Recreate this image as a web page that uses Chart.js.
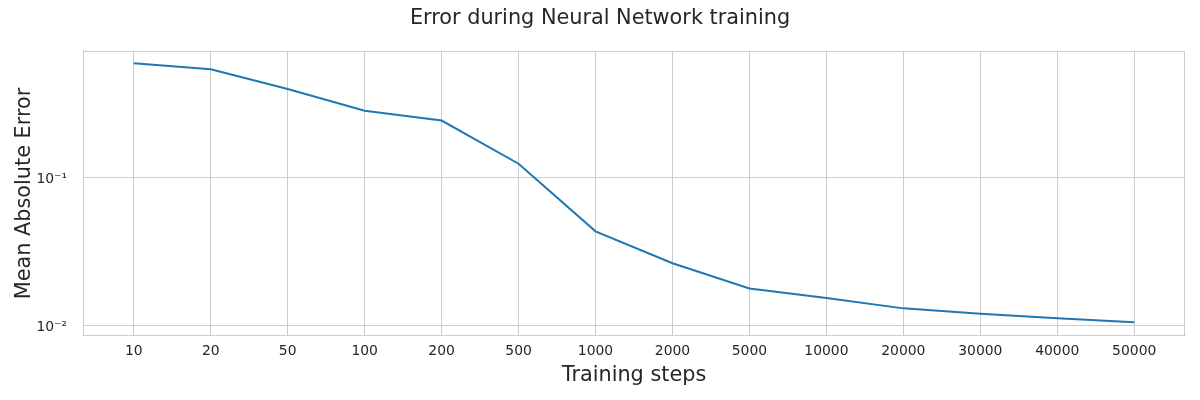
<!DOCTYPE html>
<html>
<head>
<meta charset="utf-8">
<script src="https://cdn.jsdelivr.net/npm/chart.js@4/dist/chart.umd.min.js"></script>
<style>
  html, body { margin: 0; padding: 0; background: #ffffff; }
  #wrap { width: 1200px; height: 400px; position: relative; }
</style>
</head>
<body>
<div id="wrap"><canvas id="c" width="1200" height="400"></canvas></div>
<script>
// ---- data ----
const steps = ['10', '20', '50', '100', '200', '500', '1000', '2000', '5000', '10000', '20000', '30000', '40000', '50000'];
const maeValues = [0.590, 0.537, 0.396, 0.282, 0.242, 0.1236, 0.0432, 0.0263, 0.01776, 0.01528, 0.01302, 0.01197, 0.01115, 0.01048];
const yTickValues = [0.01, 0.1];
const yTickLabels = ['10\u207B\u00B2', '10\u207B\u00B9'];
const titleText = 'Error during Neural Network training';
const xTitle = 'Training steps';
const yTitle = 'Mean Absolute Error';

const points = maeValues.map((v, i) => ({ x: i, y: v }));
const FONT = "'DejaVu Sans', sans-serif";
const TEXT = '#262626';
const GRID = '#cccccc';

const framePlugin = {
  id: 'frame',
  beforeDatasetsDraw(chart) {
    const a = chart.chartArea, ctx = chart.ctx;
    ctx.save();
    ctx.strokeStyle = GRID;
    ctx.lineWidth = 1;
    ctx.strokeRect(Math.round(a.left) + 0.5, Math.round(a.top) + 0.5, Math.round(a.right - a.left) - 1, Math.round(a.bottom - a.top) - 1);
    ctx.restore();
  }
};

new Chart(document.getElementById('c'), {
  type: 'line',
  data: {
    datasets: [{
      data: points,
      borderColor: '#1f77b4',
      backgroundColor: '#1f77b4',
      borderWidth: 2,
      pointRadius: 0,
      tension: 0,
      fill: false
    }]
  },
  options: {
    responsive: false,
    animation: false,
    devicePixelRatio: 1,
    layout: { padding: { top: 0, right: 15, bottom: 0, left: 15 } },
    plugins: {
      legend: { display: false },
      tooltip: { enabled: false },
      title: {
        display: true,
        text: titleText,
        color: TEXT,
        font: { family: FONT, size: 20.8, weight: 'normal' },
        padding: { top: 6, bottom: 20 }
      }
    },
    scales: {
      x: {
        type: 'linear',
        min: -0.66,
        max: 13.66,
        afterBuildTicks(scale) { scale.ticks = steps.map((s, i) => ({ value: i })); },
        afterFit(scale) { scale.height = 64; },
        ticks: {
          color: TEXT,
          font: { family: FONT, size: 13.9 },
          padding: 7,
          maxRotation: 0,
          autoSkip: false,
          callback: (v) => steps[v]
        },
        grid: { color: GRID, lineWidth: 1, drawTicks: false },
        border: { color: GRID, width: 1 },
        title: {
          display: true,
          text: xTitle,
          color: TEXT,
          font: { family: FONT, size: 20.8 },
          padding: { top: 0, bottom: 12 }
        }
      },
      y: {
        type: 'logarithmic',
        min: 0.00847,
        max: 0.715,
        afterBuildTicks(scale) { scale.ticks = yTickValues.map(v => ({ value: v })); },
        afterFit(scale) { scale.width = 68; },
        ticks: {
          color: TEXT,
          font: { family: FONT, size: 13.9 },
          padding: 16,
          labelOffset: 2,
          autoSkip: false,
          callback: (v) => { const i = yTickValues.indexOf(v); return i >= 0 ? yTickLabels[i] : ''; }
        },
        grid: { color: GRID, lineWidth: 1, drawTicks: false },
        border: { color: GRID, width: 1 },
        title: {
          display: true,
          text: yTitle,
          color: TEXT,
          font: { family: FONT, size: 20.8 },
          padding: { top: -3, bottom: 0 }
        }
      }
    }
  },
  plugins: [framePlugin]
});
</script>
</body>
</html>
